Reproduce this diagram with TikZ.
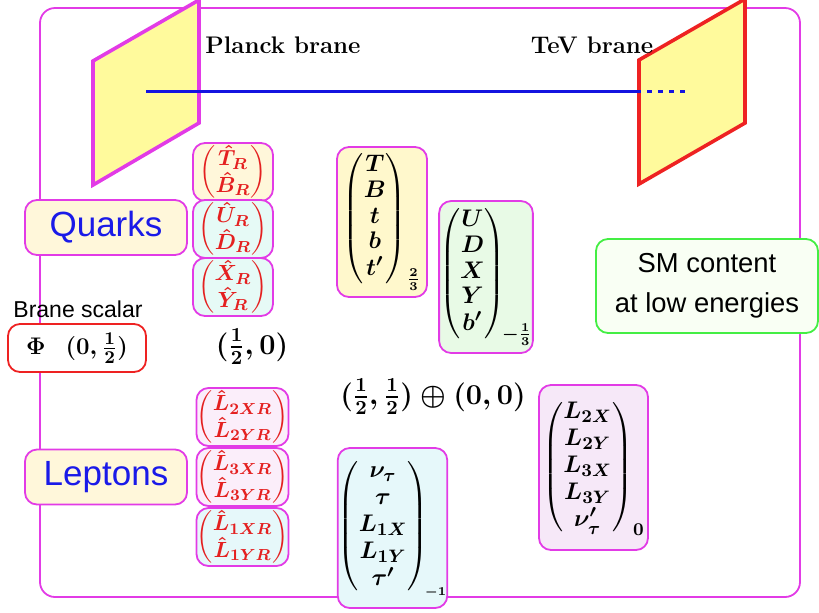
\documentclass[tikz,border=0pt]{standalone}
\usepackage{amsmath}
\usepackage{fontspec}
\setsansfont{Liberation Sans}
\usepackage{tikz}
\usetikzlibrary{positioning}
\usepackage{xcolor}
\definecolor{framemag}{HTML}{E23BE6}
\definecolor{braneyellow}{HTML}{FFFA9C}
\definecolor{tevred}{HTML}{EE2222}
\definecolor{bulkblue}{HTML}{1414E0}
\definecolor{hatred}{HTML}{E42020}
\definecolor{labelblue}{HTML}{1A1AE8}
\definecolor{creamfill}{HTML}{FFF7DA}
\definecolor{cyanfill}{HTML}{E6FAF6}
\definecolor{lavfill}{HTML}{FBEEFA}
\definecolor{upfill}{HTML}{FFF8CC}
\definecolor{downfill}{HTML}{E8FAE6}
\definecolor{zerofill}{HTML}{F6E8F8}
\definecolor{minusfill}{HTML}{E6F8FA}
\definecolor{smgreen}{HTML}{44EE44}
\definecolor{smfill}{HTML}{F9FFF4}
\renewcommand{\arraystretch}{1.05}

\begin{document}
\begin{tikzpicture}[x=0.5pt, y=-0.5pt,
  box/.style={draw=framemag, line width=0.9pt, rounded corners=6pt, inner sep=0pt},
  sector/.style={box, fill=creamfill, minimum width=81pt, minimum height=27.5pt,
    text=labelblue, font=\sffamily\fontsize{17.5}{20}\selectfont},
  hatbox/.style={box, minimum width=40pt, minimum height=29pt, text=hatred,
    font=\boldmath\fontsize{10.8}{9.6}\selectfont},
  lhatbox/.style={hatbox, minimum width=46pt},
  multbox/.style={box, minimum width=45pt, minimum height=75pt,
    font=\boldmath\fontsize{13}{12.2}\selectfont},
  lmultbox/.style={multbox, minimum width=54.5pt, minimum height=81pt,
    font=\boldmath\fontsize{13}{12.9}\selectfont},
  brane/.style={fill=braneyellow, line width=1.8pt, line join=miter},
  title/.style={font=\bfseries\fontsize{12}{14}\selectfont},
  rep/.style={font=\boldmath\fontsize{14}{16}\selectfont}
]
  \useasboundingbox (0,0) rectangle (819,612);

  % outer frame
  \draw[framemag, line width=0.9pt, rounded corners=7.5pt] (40,8) rectangle (800,597);

  % the two branes
  \draw[brane, draw=framemag] (93,61) -- (199,0) -- (199,123) -- (93,185) -- cycle;
  \draw[brane, draw=tevred] (639,60) -- (745,-1) -- (745,123) -- (639,184) -- cycle;

  % bulk line
  \coordinate (bulkL) at (146,91);
  \coordinate (bulkR) at (639,91);
  \coordinate (bulkE) at (688,91);
  \draw[bulkblue, line width=1.5pt] (bulkL) -- (bulkR);
  \draw[bulkblue, line width=1.5pt, dash pattern=on 2.5pt off 3pt, dash phase=-4pt] (bulkR) -- (bulkE);

  \node[title] (planck) at (283,45) {Planck brane};
  \node[title] (tev) at (592,45) {TeV brane};

  % sector labels
  \node[sector] (quarks) at (106,227.5) {Quarks};
  \node[sector] (leptons) at (106,477) {Leptons};

  % brane scalar
  \node[font=\sffamily\fontsize{11.5}{13}\selectfont] (scalar) at (78,309) {Brane scalar};
  \node[box, draw=tevred, fill=white, minimum width=69pt, minimum height=24pt,
    font=\boldmath\fontsize{13}{15}\selectfont] (phi) at (77,348)
    {$\Phi\;\;\,(0,\tfrac{1}{2})$};

  % quark singlets
  \node[hatbox, fill=creamfill] (hatT) at (233,172)
    {$\begin{pmatrix}\hat{T}_R\\ \hat{B}_R\end{pmatrix}$};
  \node[hatbox, fill=cyanfill] (hatU) at (233,229)
    {$\begin{pmatrix}\hat{U}_R\\ \hat{D}_R\end{pmatrix}$};
  \node[hatbox, fill=cyanfill] (hatX) at (233,287)
    {$\begin{pmatrix}\hat{X}_R\\ \hat{Y}_R\end{pmatrix}$};
  \node[rep] (halfzero) at (252,347) {$(\tfrac{1}{2},0)$};

  % quark multiplets
  \node[multbox, fill=upfill] (up) at (382,222)
    {$\begin{pmatrix}T\\ B\\ t\\ b\\ t'\end{pmatrix}_{\frac{2}{3}}$};
  \node[multbox, fill=downfill, minimum height=76pt] (down) at (486,277)
    {$\begin{pmatrix}U\\ D\\ X\\ Y\\ b'\end{pmatrix}_{\!-\frac{1}{3}}$};

  % low energy box
  \node[box, draw=smgreen, fill=smfill, minimum width=111pt, minimum height=47pt,
    align=center, font=\sffamily\fontsize{13.7}{20}\selectfont] (sm) at (707,286)
    {SM content\\ at low energies};

  % lepton singlets
  \node[lhatbox, fill=lavfill] (hatL2) at (242.5,417)
    {$\begin{pmatrix}\hat{L}_{2XR}\\ \hat{L}_{2YR}\end{pmatrix}$};
  \node[lhatbox, fill=lavfill] (hatL3) at (242.5,477)
    {$\begin{pmatrix}\hat{L}_{3XR}\\ \hat{L}_{3YR}\end{pmatrix}$};
  \node[lhatbox, fill=minusfill] (hatL1) at (242.5,537)
    {$\begin{pmatrix}\hat{L}_{1XR}\\ \hat{L}_{1YR}\end{pmatrix}$};

  \node[rep] (bidoublet) at (433,397) {$(\tfrac{1}{2},\tfrac{1}{2})\oplus(0,0)$};

  % lepton multiplets
  \node[lmultbox, fill=zerofill, minimum height=82.5pt] (neutral) at (593.5,467.5)
    {$\begin{pmatrix}L_{2X}\\ L_{2Y}\\ L_{3X}\\ L_{3Y}\\ \nu'_\tau\end{pmatrix}_0$};
  \node[lmultbox, fill=minusfill, minimum height=80pt] (charged) at (392.5,528)
    {$\begin{pmatrix}\nu_\tau\\ \tau\\ L_{1X}\\ L_{1Y}\\ \tau'\end{pmatrix}_{\!\scriptscriptstyle -1}$};
\end{tikzpicture}
\end{document}
